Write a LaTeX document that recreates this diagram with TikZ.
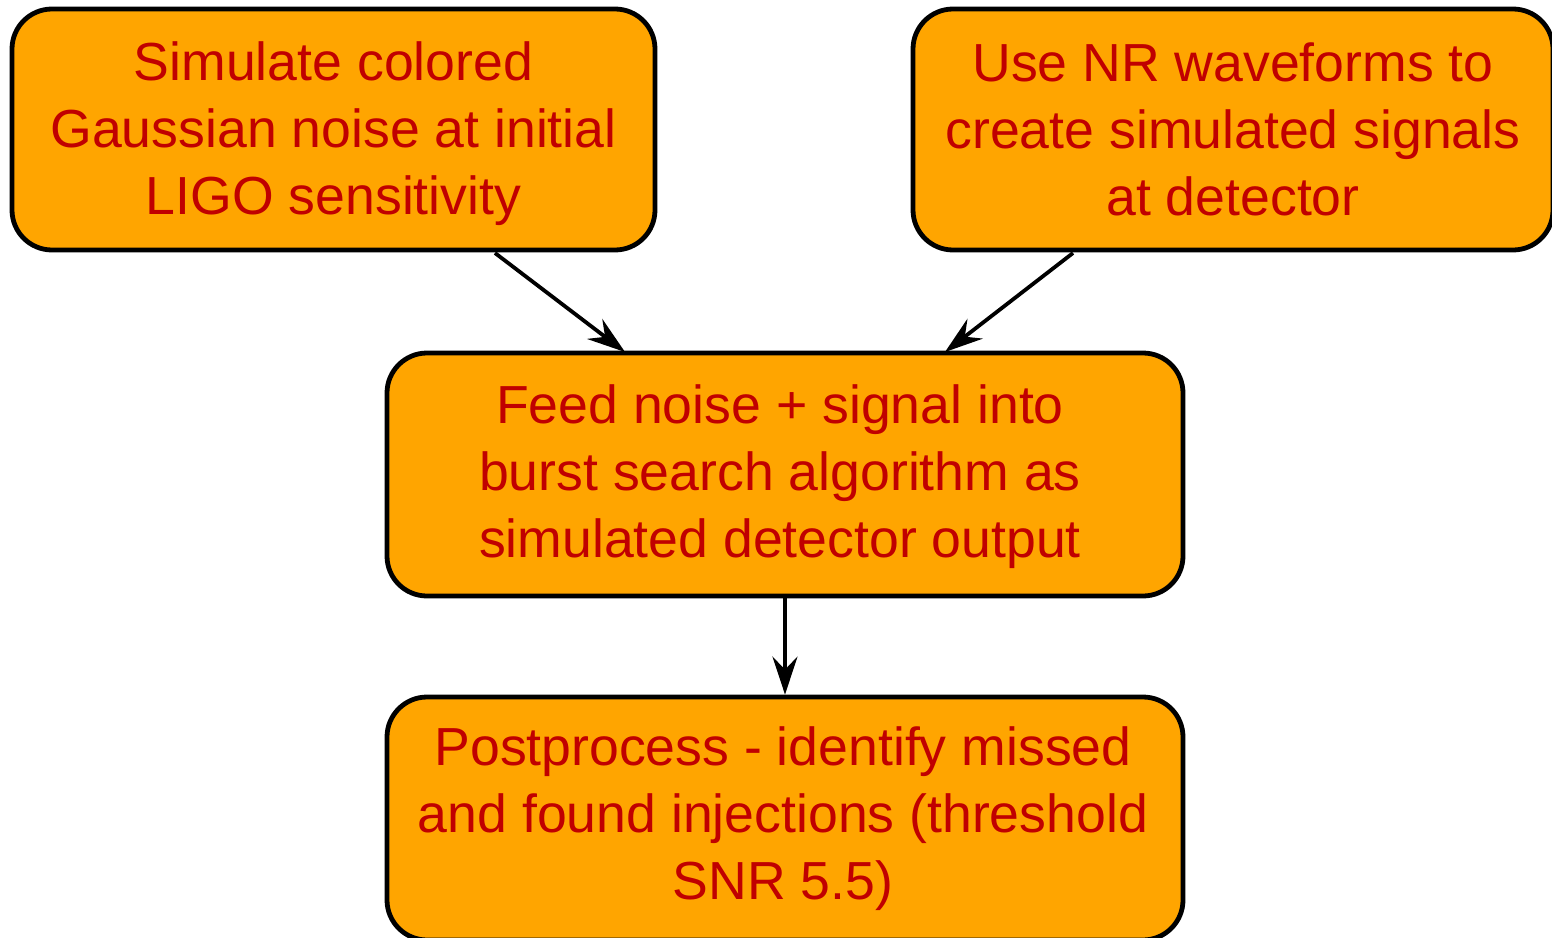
\documentclass[tikz,border=0pt]{standalone}
\usepackage{fontspec}
\setmainfont{Liberation Sans}
\usetikzlibrary{arrows.meta}
\definecolor{boxfill}{RGB}{255,165,0}
\definecolor{txt}{RGB}{192,0,0}
\newcommand{\flowlines}[2]{\raisebox{#1}[\height][\depth]{\begin{tabular}{@{}c@{}}#2\end{tabular}}}
\tikzset{
  flowbox/.style={draw=black, line width=2.4pt, fill=boxfill, rounded corners=20pt,
    text=txt, inner sep=0pt,
    font=\fontsize{26.8}{33.5}\selectfont},
  flowarrow/.style={draw=black, line width=1.9pt, -{Stealth[length=19pt,width=12.5pt,inset=6.5pt]}}
}
\begin{document}
\begin{tikzpicture}[x=0.5pt,y=-0.5pt]
\useasboundingbox (0,0) rectangle (1552,937);
\node[flowbox, minimum width=321.5pt, minimum height=120.5pt] (noise) at (333.5,129.5)
  {\flowlines{-2.5pt}{Simulate colored\\Gaussian noise at initial\\LIGO sensitivity}};
\node[flowbox, minimum width=320pt, minimum height=120.5pt] (nr) at (1233,129.5)
  {\flowlines{-3pt}{Use NR waveforms to\\create simulated signals\\at detector}};
\node[flowbox, minimum width=398pt, minimum height=121.5pt] (feed) at (785,474.5)
  {\kern-5pt\flowlines{-1.5pt}{Feed noise + signal into\\burst search algorithm as\\simulated detector output}};
\node[flowbox, minimum width=398pt, minimum height=121.5pt] (post) at (785,818.5)
  {\kern-2pt\flowlines{-0.5pt}{Postprocess - identify missed\\and found injections (threshold\\SNR 5.5)}};
\coordinate (a1s) at (495,253);
\coordinate (a1e) at (625,352);
\coordinate (a2s) at (1073,253);
\coordinate (a2e) at (945,352);
\draw[flowarrow] (a1s) -- (a1e);
\draw[flowarrow] (a2s) -- (a2e);
\draw[flowarrow] (feed.south) -- (post.north);
\end{tikzpicture}
\end{document}
